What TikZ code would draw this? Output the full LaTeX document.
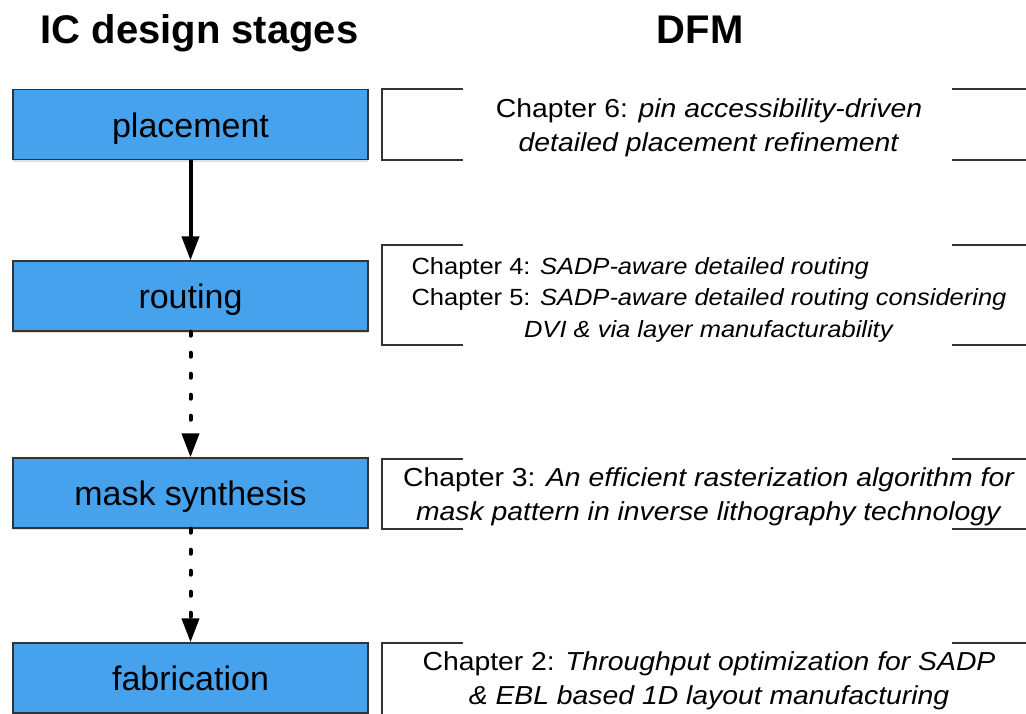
\documentclass[tikz,border=0pt]{standalone}
\usepackage{fontspec}
\setmainfont{Liberation Sans}
\newfontfamily\chapfont[FakeStretch=1.09]{Liberation Sans}
\usetikzlibrary{arrows.meta,shadows}
\definecolor{stageblue}{HTML}{47A2EE}
\definecolor{frameline}{HTML}{333333}
\begin{document}
\begin{tikzpicture}[x=1pt,y=-1pt,
  stagebox/.style={draw=frameline,line width=1.4pt,fill=stageblue,
    minimum width=355pt,minimum height=70pt,inner sep=0pt,
    drop shadow={opacity=0.25,shadow xshift=0pt,shadow yshift=-2pt}},
  stagelabel/.style={anchor=base,inner sep=0pt,font=\fontsize{34}{40}\selectfont},
  heading/.style={anchor=base,inner sep=0pt,font=\fontsize{40}{46}\selectfont\bfseries},
  chaptext/.style={align=center,font=\chapfont\fontsize{26}{34}\selectfont},
  smallchaptext/.style={chaptext,font=\chapfont\fontsize{23.4}{31.5}\selectfont},
  bracket/.style={draw=frameline,line width=1.2pt},
  flow/.style={line width=4pt,-{Triangle[width=17pt,length=24pt]}},
  dotflow/.style={flow,line cap=round,dash pattern=on 4pt off 17pt}
]
\useasboundingbox (0,0) rectangle (1026,713);
\clip (0,0) rectangle (1026,713);

% column headings
\node[heading] (hstages) at (199.5,43) {IC design stages};
\node[heading] (hdfm) at (700,43) {DFM};

% design stages
\node[stagebox] (place) at (190.5,124.5) {};
\node[stagebox] (route) at (190.5,296) {};
\node[stagebox] (mask) at (190.5,493) {};
\node[stagebox] (fab) at (190.5,678) {};
\node[stagelabel] (placetxt) at ([yshift=-12.5pt]place.center) {placement};
\node[stagelabel] (routetxt) at ([yshift=-12.5pt]route.center) {routing};
\node[stagelabel] (masktxt) at ([yshift=-12.5pt]mask.center) {mask synthesis};
\node[stagelabel] (fabtxt) at ([yshift=-12.5pt]fab.center) {fabrication};

% flow between stages
\draw[flow] (place.south) -- (route.north);
\draw[dotflow] (route.south) -- (mask.north);
\draw[dotflow] (mask.south) -- (fab.north);

% DFM brackets
\foreach \top/\bot in {89/160, 245/345, 459/529, 643/730}{
  \draw[bracket] (463,\top) -- (382,\top) -- (382,\bot) -- (463,\bot);
  \draw[bracket] (952,\top) -- (1030,\top);
  \draw[bracket] (952,\bot) -- (1030,\bot);
}

% DFM contributions
\node[chaptext] (c6) at (709,128) {Chapter 6: \textit{pin accessibility-driven}\\ \textit{detailed placement refinement}};
\node[smallchaptext] (c45) at (709,299.5) {\rlap{Chapter 4: \textit{SADP-aware detailed routing}}\phantom{Chapter 5: \textit{SADP-aware detailed routing considering}}\\ Chapter 5: \textit{SADP-aware detailed routing considering}\\ \textit{DVI \& via layer manufacturability}};
\node[chaptext] (c3) at (709,497) {Chapter 3: \textit{An efficient rasterization algorithm for}\\ \textit{mask pattern in inverse lithography technology}};
\node[chaptext] (c2) at (709,681) {Chapter 2: \textit{Throughput optimization for SADP}\\ \textit{\& EBL based 1D layout manufacturing}};
\end{tikzpicture}
\end{document}
